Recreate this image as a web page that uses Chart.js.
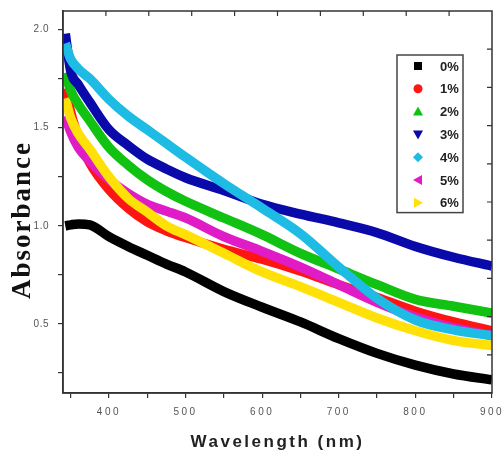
<!DOCTYPE html>
<html>
<head>
<meta charset="utf-8">
<script src="https://cdn.jsdelivr.net/npm/chart.js@4.4.1/dist/chart.umd.min.js"></script>
<style>
  html, body { margin: 0; padding: 0; background: #fff; }
  #wrap { width: 503px; height: 455px; }
</style>
</head>
<body>
<div id="wrap"><canvas id="absChart" width="503" height="455"></canvas></div>
<script>
// wavelength grid (nm) shared by every sample
const wavelengths = [343, 350, 360, 375, 400, 425, 450, 475, 500, 550, 600, 650, 700, 750, 800, 850, 900];

// absorbance
const abs0 = [1.0, 1.005, 1.01, 1.005, 0.945, 0.895, 0.85, 0.805, 0.765, 0.665, 0.585, 0.51, 0.425, 0.35, 0.29, 0.245, 0.215];
const abs1 = [1.70, 1.58, 1.45, 1.32, 1.185, 1.09, 1.02, 0.975, 0.94, 0.88, 0.83, 0.77, 0.70, 0.635, 0.565, 0.51, 0.465];
const abs2 = [1.78, 1.69, 1.62, 1.535, 1.40, 1.31, 1.235, 1.175, 1.125, 1.04, 0.955, 0.86, 0.78, 0.70, 0.625, 0.59, 0.555];
const abs3 = [1.98, 1.79, 1.72, 1.63, 1.49, 1.41, 1.34, 1.29, 1.245, 1.18, 1.11, 1.06, 1.015, 0.965, 0.895, 0.84, 0.795];
const abs4 = [1.93, 1.85, 1.80, 1.75, 1.645, 1.56, 1.49, 1.42, 1.35, 1.215, 1.09, 0.96, 0.79, 0.63, 0.52, 0.47, 0.44];
const abs5 = [1.56, 1.48, 1.40, 1.33, 1.235, 1.165, 1.11, 1.075, 1.04, 0.945, 0.87, 0.79, 0.70, 0.61, 0.535, 0.48, 0.44];
const abs6 = [1.65, 1.55, 1.47, 1.39, 1.25, 1.14, 1.07, 1.00, 0.955, 0.86, 0.765, 0.69, 0.61, 0.53, 0.465, 0.415, 0.39];

const seriesNames = ["0%", "1%", "2%", "3%", "4%", "5%", "6%"];
const seriesValues = [abs0, abs1, abs2, abs3, abs4, abs5, abs6];

// axis ticks
const xTicks = [350, 400, 450, 500, 550, 600, 650, 700, 750, 800, 850, 900];
const xLabels = [400, 500, 600, 700, 800, 900];
const yTicks = [0.25, 0.5, 0.75, 1.0, 1.25, 1.5, 1.75, 2.0];
const yLabels = [0.5, 1.0, 1.5, 2.0];

// look of each series
const colors = ["#000000", "#ff1414", "#12c212", "#0a0aaa", "#1ebbe4", "#e01cc6", "#ffe108"];
const markers = ["square", "circle", "triUp", "triDown", "diamond", "triLeft", "triRight"];
const drawOrder = [6, 5, 2, 1, 0, 4, 3]; // higher = drawn underneath

function drawMarker(ctx, kind, x, y, color) {
  ctx.fillStyle = color;
  ctx.beginPath();
  const s = 5;
  if (kind === "square") ctx.rect(x - 4, y - 4, 8, 8);
  else if (kind === "circle") ctx.arc(x, y, 4.5, 0, Math.PI * 2);
  else if (kind === "triUp") { ctx.moveTo(x, y - s); ctx.lineTo(x + s, y + s * 0.8); ctx.lineTo(x - s, y + s * 0.8); }
  else if (kind === "triDown") { ctx.moveTo(x, y + s); ctx.lineTo(x + s, y - s * 0.8); ctx.lineTo(x - s, y - s * 0.8); }
  else if (kind === "diamond") { ctx.moveTo(x, y - s); ctx.lineTo(x + s, y); ctx.lineTo(x, y + s); ctx.lineTo(x - s, y); }
  else if (kind === "triLeft") { ctx.moveTo(x - s, y); ctx.lineTo(x + s * 0.8, y - s); ctx.lineTo(x + s * 0.8, y + s); }
  else if (kind === "triRight") { ctx.moveTo(x + s, y); ctx.lineTo(x - s * 0.8, y - s); ctx.lineTo(x - s * 0.8, y + s); }
  ctx.closePath();
  ctx.fill();
}

// spaced-out text like the original plot (tighter on the y axis)
const spacing = {
  id: "spacing",
  beforeDraw(chart) {
    chart.ctx.letterSpacing = "2.5px";
    const ys = chart.scales.y;
    if (ys && !ys._spaced) {
      const orig = ys.drawLabels;
      ys.drawLabels = function (area) {
        const prev = this.ctx.letterSpacing;
        this.ctx.letterSpacing = "0.5px";
        orig.call(this, area);
        this.ctx.letterSpacing = prev;
      };
      ys._spaced = true;
    }
  },
  afterDraw(chart) { chart.ctx.letterSpacing = "0px"; }
};

// box frame with small inward ticks on top and right, plus the y title
const frame = {
  id: "frame",
  afterDraw(chart) {
    const { ctx, chartArea: a } = chart;
    ctx.save();
    ctx.strokeStyle = "#333";
    ctx.lineWidth = 1.5;
    ctx.strokeRect(a.left, a.top, a.right - a.left, a.bottom - a.top);
    ctx.lineWidth = 1.2;
    ctx.beginPath();
    for (let i = 1; i < 10; i++) {
      const x = a.left + (a.right - a.left) * i / 10;
      ctx.moveTo(x, a.top); ctx.lineTo(x, a.top + 5);
      const y = a.top + (a.bottom - a.top) * i / 10;
      ctx.moveTo(a.right, y); ctx.lineTo(a.right - 5, y);
    }
    ctx.stroke();

    ctx.letterSpacing = "2px";
    ctx.fillStyle = "#111";
    ctx.font = "bold 27px 'Liberation Serif', 'Times New Roman', serif";
    ctx.textAlign = "center";
    ctx.textBaseline = "middle";
    ctx.translate(23.5, 220);
    ctx.rotate(-Math.PI / 2);
    ctx.fillText("Absorbance", 0, 0);
    ctx.restore();
  }
};

// legend box inside the plot, top right
const insideLegend = {
  id: "insideLegend",
  afterDraw(chart) {
    const { ctx, chartArea: a } = chart;
    const n = chart.data.datasets.length;
    const x0 = a.right - 95, y0 = a.top + 44;
    const w = 66, rowH = 22.8;
    ctx.save();
    ctx.letterSpacing = "0px";
    ctx.fillStyle = "#fff";
    ctx.fillRect(x0, y0, w, rowH * n - 2);
    ctx.strokeStyle = "#444";
    ctx.lineWidth = 1.5;
    ctx.strokeRect(x0, y0, w, rowH * n - 2);
    ctx.font = "bold 13px 'Liberation Sans Narrow', 'Arial Narrow', 'Liberation Sans', sans-serif";
    ctx.textBaseline = "middle";
    ctx.textAlign = "left";
    chart.data.datasets.forEach((ds, i) => {
      const y = y0 + 11 + i * rowH;
      drawMarker(ctx, ds.marker, x0 + 21, y, ds.borderColor);
      ctx.fillStyle = "#222";
      ctx.fillText(ds.label, x0 + 43, y + 1);
    });
    ctx.restore();
  }
};

const datasets = seriesNames.map((name, i) => ({
  label: name,
  data: wavelengths.map((w, j) => ({ x: w, y: seriesValues[i][j] })),
  borderColor: colors[i],
  backgroundColor: colors[i],
  borderWidth: 9.5,
  pointRadius: 0,
  cubicInterpolationMode: "monotone",
  fill: false,
  clip: 0,
  order: drawOrder[i],
  marker: markers[i]
}));

const tickFont = { family: "'Liberation Sans', Arial, sans-serif", size: 10 };

new Chart(document.getElementById("absChart").getContext("2d"), {
  type: "line",
  data: { datasets },
  options: {
    responsive: false,
    animation: false,
    layout: { padding: { top: 11, right: 11, left: 0, bottom: 0 } },
    plugins: { legend: { display: false }, tooltip: { enabled: false } },
    scales: {
      x: {
        type: "linear",
        min: 340,
        max: 900,
        afterBuildTicks: s => { s.ticks = xTicks.map(v => ({ value: v })); },
        afterFit: s => { s.height = 62; s.paddingLeft = 0; s.paddingRight = 0; },
        ticks: {
          autoSkip: false,
          maxRotation: 0,
          padding: 8,
          color: "#555",
          font: tickFont,
          callback: v => xLabels.includes(v) ? String(v) : ""
        },
        grid: { drawOnChartArea: false, tickLength: 5, color: "#333", lineWidth: 1.2 },
        border: { display: true, color: "#333", width: 1.5 },
        title: {
          display: true,
          text: "Wavelength (nm)",
          color: "#222",
          font: { family: "'Liberation Sans', Arial, sans-serif", size: 17, weight: "bold" },
          padding: { top: 0, bottom: 2 }
        }
      },
      y: {
        min: 0.148,
        max: 2.095,
        afterBuildTicks: s => { s.ticks = yTicks.map(v => ({ value: v })); },
        afterFit: s => { s.width = 63; s.paddingTop = 0; s.paddingBottom = 0; },
        ticks: {
          autoSkip: false,
          padding: 9,
          color: "#555",
          font: tickFont,
          callback: v => yLabels.includes(v) ? v.toFixed(1) : ""
        },
        grid: { drawOnChartArea: false, tickLength: 5, color: "#333", lineWidth: 1.2 },
        border: { display: true, color: "#333", width: 1.5 }
      }
    }
  },
  plugins: [spacing, frame, insideLegend]
});
</script>
</body>
</html>
